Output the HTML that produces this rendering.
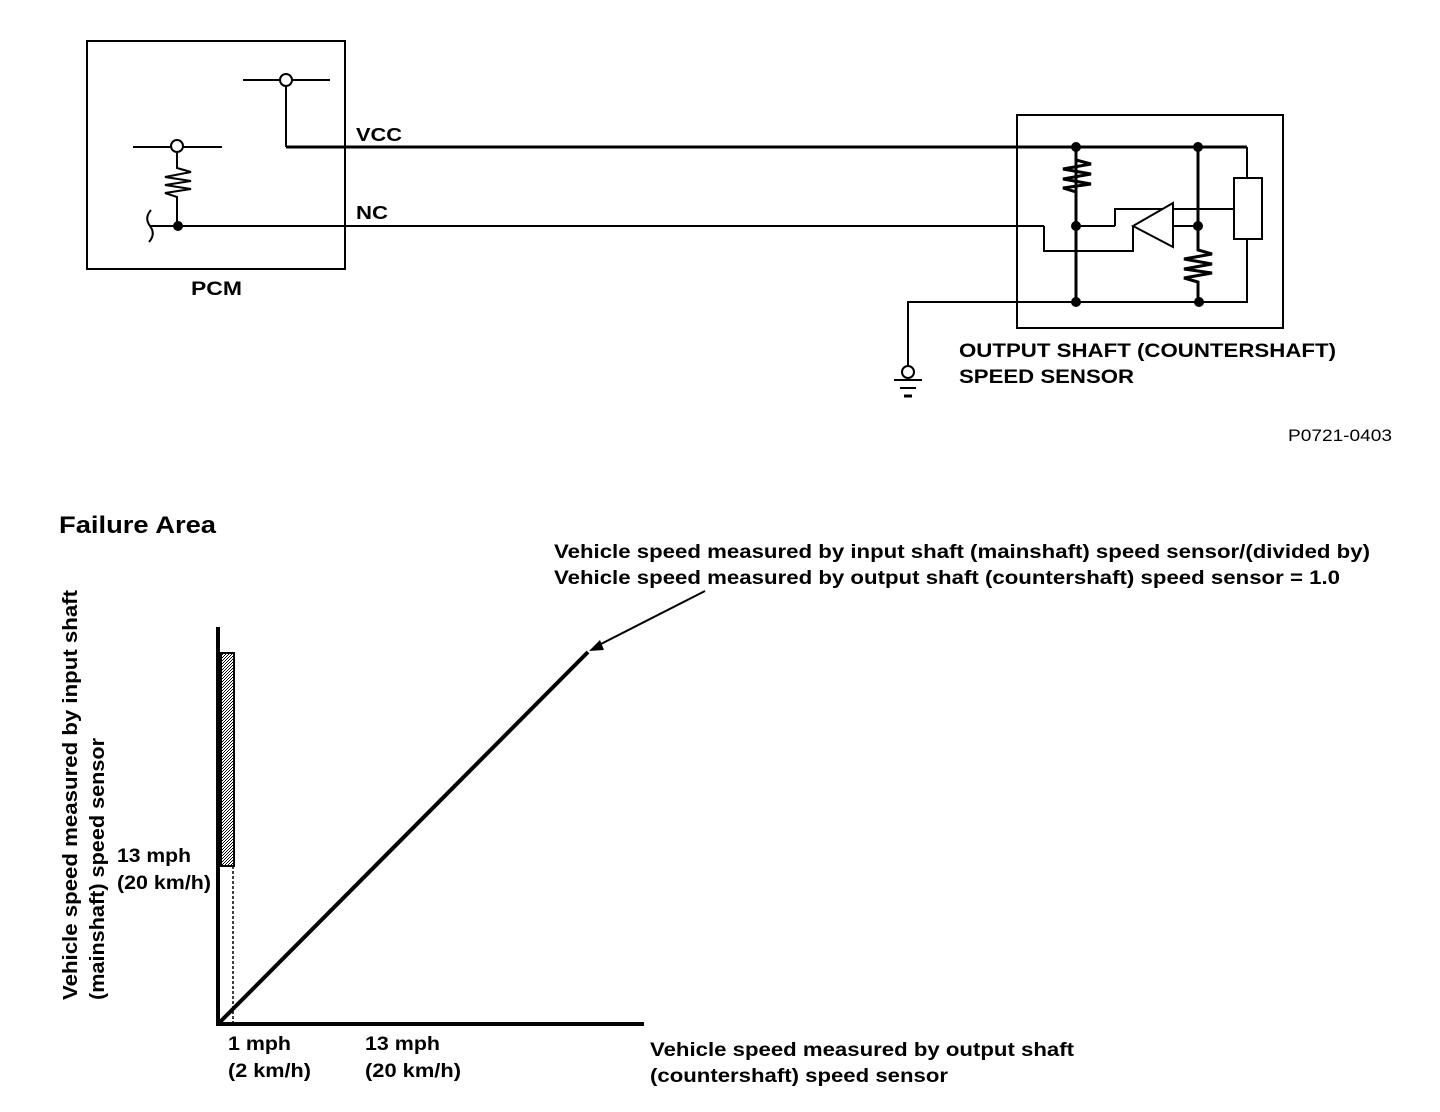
<!DOCTYPE html>
<html><head><meta charset="utf-8"><style>
html,body{margin:0;padding:0;background:#fff;}
svg{display:block;}
text{font-family:"Liberation Sans",Arial,sans-serif;font-weight:bold;fill:#000;}
</style></head><body>
<svg width="1440" height="1112" viewBox="0 0 1440 1112" xmlns="http://www.w3.org/2000/svg">
<defs>
<pattern id="hatch" width="3" height="3" patternUnits="userSpaceOnUse">
<rect width="3" height="3" fill="#fff"/><rect width="1" height="1" fill="#000"/><rect x="2" y="1" width="1" height="1" fill="#000"/><rect x="1" y="2" width="1" height="1" fill="#000"/>
</pattern>
</defs>
<g fill="none" stroke="#000" stroke-width="2">
<rect x="87" y="41" width="258" height="228"/>
<line x1="243" y1="80" x2="330" y2="80"/>
<line x1="286" y1="86" x2="286" y2="147"/>
<line x1="133" y1="147" x2="222" y2="147"/>
<polyline points="177,152 177,168 191,172 165,177 191,181 165,185 191,189 165,193 177,197 177,226"/>
<path d="M151,210 Q144,218 150,226 Q156,234 149,242"/>
<line x1="150" y1="226" x2="178" y2="226"/>
<line x1="286" y1="147" x2="1247" y2="147" stroke-width="3"/>
<line x1="178" y1="226" x2="1044" y2="226"/>
<rect x="1017" y="115" width="266" height="213"/>
<polyline points="1044,226 1044,251 1133,251 1133,226"/>
<line x1="1076" y1="147" x2="1076" y2="302" stroke-width="3"/>
<line x1="1198" y1="147" x2="1198" y2="226" stroke-width="3"/>
<polyline points="1076,147 1076,160 1091,164 1063,169 1091,174 1063,179 1091,184 1063,188 1076,192 1076,302" stroke-width="3"/>
<line x1="1076" y1="226" x2="1115" y2="226"/>
<polyline points="1115,226 1115,209 1234,209"/>
<polygon points="1133,226 1173,203 1173,247" fill="#fff"/>
<line x1="1173" y1="226" x2="1198" y2="226"/>
<polyline points="1198,226 1198,250 1212,254 1184,259 1212,264 1184,269 1212,273 1184,278 1198,282 1198,302" stroke-width="3"/>
<line x1="1247" y1="147" x2="1247" y2="178"/>
<rect x="1234" y="178" width="28" height="61"/>
<polyline points="1247,239 1247,302 908,302 908,366"/>
<circle cx="908" cy="372" r="6"/>
<line x1="894" y1="380" x2="922" y2="380"/>
<line x1="900" y1="388" x2="916" y2="388"/>
<line x1="904" y1="396" x2="912" y2="396" stroke-width="3"/>
</g>
<circle cx="286" cy="80" r="6" fill="#fff" stroke="#000" stroke-width="2"/>
<circle cx="177" cy="146" r="6" fill="#fff" stroke="#000" stroke-width="2"/>
<g fill="#000">
<circle cx="178" cy="226" r="5"/>
<circle cx="1076" cy="147" r="5"/><circle cx="1198" cy="147" r="5"/>
<circle cx="1076" cy="226" r="5"/><circle cx="1198" cy="226" r="5"/>
<circle cx="1076" cy="302" r="5"/><circle cx="1199" cy="302" r="5"/>
</g>
<text x="356" y="141" font-size="18" textLength="46" lengthAdjust="spacingAndGlyphs">VCC</text>
<text x="356" y="219" font-size="18" textLength="32" lengthAdjust="spacingAndGlyphs">NC</text>
<text x="191" y="295" font-size="19" textLength="51" lengthAdjust="spacingAndGlyphs">PCM</text>
<text x="959" y="357" font-size="19" textLength="377" lengthAdjust="spacingAndGlyphs">OUTPUT SHAFT (COUNTERSHAFT)</text>
<text x="959" y="383" font-size="19" textLength="175" lengthAdjust="spacingAndGlyphs">SPEED SENSOR</text>
<text x="1288" y="441" font-size="17" style="font-weight:normal" textLength="104" lengthAdjust="spacingAndGlyphs">P0721-0403</text>

<text x="59" y="533" font-size="24" textLength="157" lengthAdjust="spacingAndGlyphs">Failure Area</text>
<text x="554" y="558" font-size="19" textLength="816" lengthAdjust="spacingAndGlyphs">Vehicle speed measured by input shaft (mainshaft) speed sensor/(divided by)</text>
<text x="554" y="584" font-size="19" textLength="786" lengthAdjust="spacingAndGlyphs">Vehicle speed measured by output shaft (countershaft) speed sensor = 1.0</text>
<rect x="221" y="653" width="13" height="213" fill="url(#hatch)" stroke="#000" stroke-width="2"/>
<line x1="233" y1="866" x2="233" y2="1024" stroke="#000" stroke-width="1.5" stroke-dasharray="3,2"/>
<line x1="218" y1="627" x2="218" y2="1024" stroke="#000" stroke-width="4"/>
<line x1="216" y1="1024" x2="644" y2="1024" stroke="#000" stroke-width="4"/>
<line x1="219" y1="1023" x2="588" y2="652" stroke="#000" stroke-width="4"/>
<line x1="705" y1="591" x2="597" y2="646" stroke="#000" stroke-width="2"/>
<polygon points="589,651 600,640 604,650" fill="#000"/>
<text transform="translate(77,1000) rotate(-90)" font-size="20" textLength="410" lengthAdjust="spacingAndGlyphs">Vehicle speed measured by input shaft</text>
<text transform="translate(104,1000) rotate(-90)" font-size="20" textLength="262" lengthAdjust="spacingAndGlyphs">(mainshaft) speed sensor</text>
<text x="117" y="862" font-size="19" textLength="74" lengthAdjust="spacingAndGlyphs">13 mph</text>
<text x="117" y="889" font-size="19" textLength="94" lengthAdjust="spacingAndGlyphs">(20 km/h)</text>
<text x="228" y="1050" font-size="19" textLength="63" lengthAdjust="spacingAndGlyphs">1 mph</text>
<text x="228" y="1077" font-size="19" textLength="83" lengthAdjust="spacingAndGlyphs">(2 km/h)</text>
<text x="365" y="1050" font-size="19" textLength="75" lengthAdjust="spacingAndGlyphs">13 mph</text>
<text x="365" y="1077" font-size="19" textLength="96" lengthAdjust="spacingAndGlyphs">(20 km/h)</text>
<text x="650" y="1056" font-size="19" textLength="424" lengthAdjust="spacingAndGlyphs">Vehicle speed measured by output shaft</text>
<text x="650" y="1082" font-size="19" textLength="298" lengthAdjust="spacingAndGlyphs">(countershaft) speed sensor</text>
</svg>
</body></html>
